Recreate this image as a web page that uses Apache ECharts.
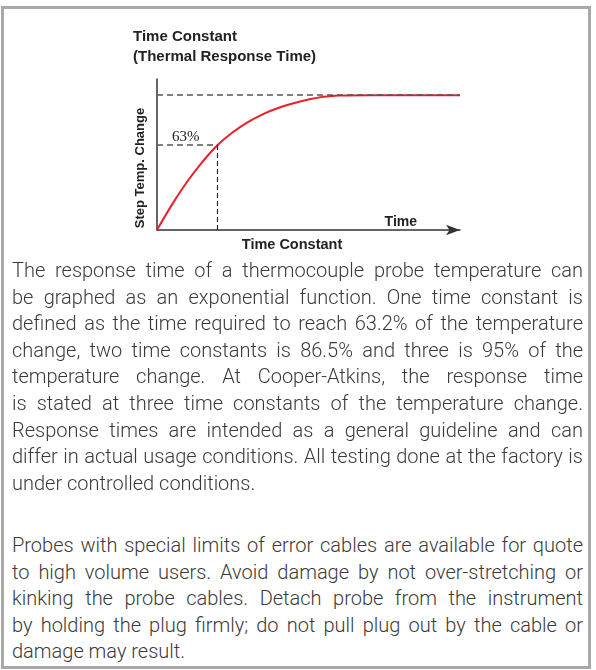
<!DOCTYPE html>
<html>
<head>
<meta charset="utf-8">
<script src="https://cdn.jsdelivr.net/npm/echarts@6/dist/echarts.min.js"></script>
<style>
  html, body { margin: 0; padding: 0; background: #fff; }
  body { width: 596px; height: 670px; position: relative; overflow: hidden; }
  #box { position: absolute; left: 1px; top: 6px; width: 590px; height: 663px;
         box-sizing: border-box; border: 3px solid #a8a8a8; }
  #chart { position: absolute; left: 0; top: 0; width: 596px; height: 260px; }
  .txt { position: absolute; left: 12px; width: 571px; color: #3a3a3a;
         font-family: Roboto, "Liberation Sans", sans-serif; font-weight: 300; font-size: 20px; }
  .txt div { height: 26.6px; line-height: 26.6px; white-space: nowrap;
             text-align: justify; text-align-last: justify; }
  .txt div.last { text-align: left; text-align-last: left; }
</style>
</head>
<body>
<div id="box"></div>
<div id="chart"></div>
<div class="txt" id="p1" style="top:257px"></div>
<div class="txt" id="p2" style="top:532px"></div>
<script>
// curve: time in time constants, step change in %
var timeConst = [0, 0.25, 0.5, 0.75, 1, 1.25, 1.5, 1.75, 2, 2.25, 2.5, 2.75, 3, 3.5, 4, 5];
var stepChange = [0, 19, 36, 50.5, 63, 72.5, 80, 86, 90.5, 94, 96.8, 98.8, 99.8, 100, 100, 100];
var finalLevel = 100;   // top dashed line
var oneTau = 1;         // one time constant
var tauLevel = 63;      // "63%"

var para1 = [
  'The response time of a thermocouple probe temperature can',
  'be graphed as an exponential function. One time constant is',
  'defined as the time required to reach 63.2% of the temperature',
  'change, two time constants is 86.5% and three is 95% of the',
  'temperature change. At Cooper-Atkins, the response time',
  'is stated at three time constants of the temperature change.',
  'Response times are intended as a general guideline and can',
  'differ in actual usage conditions. All testing done at the factory is',
  'under controlled conditions.'
];
var para2 = [
  'Probes with special limits of error cables are available for quote',
  'to high volume users. Avoid damage by not over-stretching or',
  'kinking the probe cables. Detach probe from the instrument',
  'by holding the plug firmly; do not pull plug out by the cable or',
  'damage may result.'
];

function fillPara(id, lines) {
  var el = document.getElementById(id);
  lines.forEach(function (l, i) {
    var d = document.createElement('div');
    d.textContent = l;
    if (i === lines.length - 1) d.className = 'last';
    el.appendChild(d);
  });
}
fillPara('p1', para1);
fillPara('p2', para2);

var chart = echarts.init(document.getElementById('chart'));
var pts = timeConst.map(function (t, i) { return [t, stepChange[i]]; });
var boldFont = '"Liberation Sans", Arial, sans-serif';

chart.setOption({
  animation: false,
  title: {
    text: 'Time Constant\n(Thermal Response Time)',
    left: 133,
    top: 27,
    padding: 0,
    textStyle: { fontFamily: boldFont, fontWeight: 'bold', fontSize: 15, lineHeight: 20, color: '#222' }
  },
  grid: { left: 157, top: 79, width: 303, height: 151 },
  xAxis: {
    type: 'value',
    min: 0,
    max: 5,
    name: 'Time',
    nameLocation: 'end',
    nameGap: -43,
    nameTextStyle: { fontFamily: boldFont, fontWeight: 'bold', fontSize: 14, color: '#222',
                     align: 'right', verticalAlign: 'bottom', padding: [0, 0, 1, 0] },
    axisLine: { show: true, symbol: ['none', 'arrow'], symbolSize: [8, 14],
                lineStyle: { color: '#333', width: 1.5 } },
    axisTick: { show: false },
    axisLabel: { show: false },
    splitLine: { show: false }
  },
  yAxis: {
    type: 'value',
    min: 0,
    max: 112,
    axisLine: { show: true, lineStyle: { color: '#333', width: 1.5 } },
    axisTick: { show: false },
    axisLabel: { show: false },
    splitLine: { show: false }
  },
  graphic: [
    { type: 'text', x: 292, y: 245,
      style: { text: 'Time Constant', fontFamily: boldFont, fontWeight: 'bold', fontSize: 14.5,
               fill: '#222', align: 'center', verticalAlign: 'middle' } },
    { type: 'text', x: 140.5, y: 168, rotation: Math.PI / 2,
      style: { text: 'Step Temp. Change', fontFamily: boldFont, fontWeight: 'bold', fontSize: 13,
               fill: '#222', align: 'center', verticalAlign: 'middle' } }
  ],
  series: [{
    type: 'line',
    data: pts,
    smooth: 0.4,
    showSymbol: false,
    lineStyle: { color: '#e8202a', width: 2 },
    markLine: {
      silent: true,
      symbol: 'none',
      label: { show: false },
      data: [
        [{ coord: [0, finalLevel], lineStyle: { color: '#555', type: [6, 4], width: 1.5 } },
         { coord: [5, finalLevel] }],
        [{ coord: [0, tauLevel], lineStyle: { color: '#555', type: [6, 4], width: 1.5 },
           label: { show: true, formatter: '63%', position: 'insideStartTop', distance: [15, 1],
                    fontFamily: '"Liberation Serif", serif', fontSize: 15, color: '#222' } },
         { coord: [oneTau, tauLevel] }],
        [{ coord: [oneTau, 0], lineStyle: { color: '#222', type: [5, 3], width: 1.2 } },
         { coord: [oneTau, tauLevel] }]
      ]
    }
  }]
});
</script>
</body>
</html>
